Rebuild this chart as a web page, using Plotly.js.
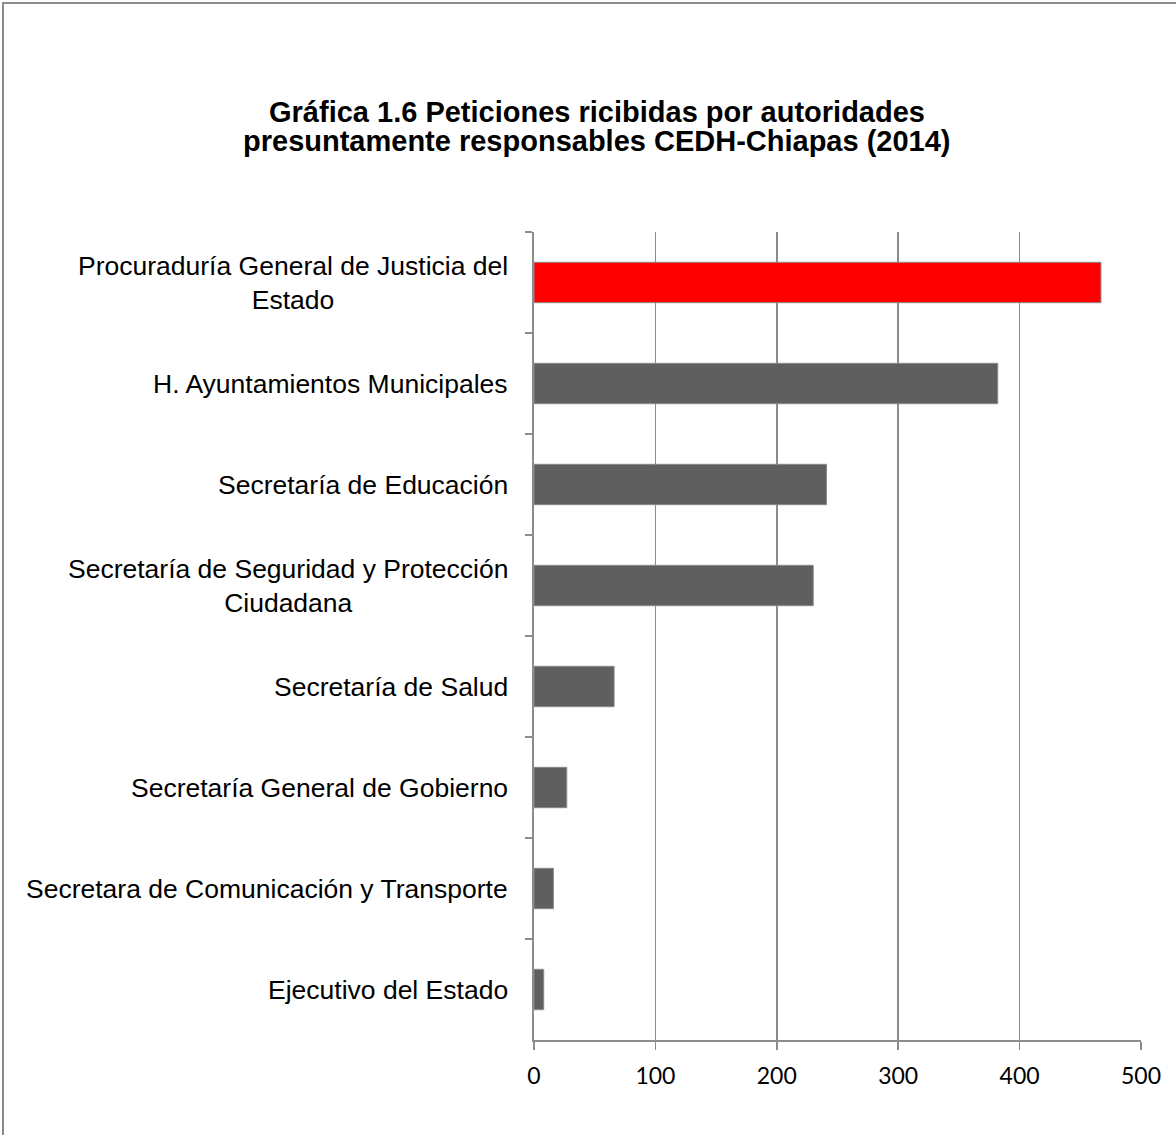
<!DOCTYPE html>
<html>
<head>
<meta charset="utf-8">
<script src="https://cdn.plot.ly/plotly-3.0.1.min.js"></script>
<style>
html,body{margin:0;padding:0;background:#fff;}
#frame{position:absolute;left:2px;top:2px;width:1180px;height:1140px;border-left:2px solid #8c8c8c;border-top:2px solid #8c8c8c;box-sizing:border-box;pointer-events:none;z-index:5;}
#chart{position:absolute;left:0;top:0;width:1176px;height:1135px;}
</style>
</head>
<body>
<div id="chart"></div>
<div id="frame"></div>
<script>
const categories = [
  "Procuraduría General de Justicia del<br>Estado",
  "H. Ayuntamientos Municipales",
  "Secretaría de Educación",
  "Secretaría de Seguridad y Protección<br>Ciudadana",
  "Secretaría de Salud",
  "Secretaría General de Gobierno",
  "Secretara de Comunicación y Transporte",
  "Ejecutivo del Estado"
];
const values = [467, 382, 241, 230, 66, 27, 16, 8];
const barColors = ["#FF0000", "#5F5F5F", "#5F5F5F", "#5F5F5F", "#5F5F5F", "#5F5F5F", "#5F5F5F", "#5F5F5F"];
const xTicks = [0, 100, 200, 300, 400, 500];
const titleLines = [
  "Gráfica 1.6 Peticiones ricibidas por autoridades",
  "presuntamente responsables CEDH-Chiapas (2014)"
];

const titleFont = {family: "Liberation Sans, Arial, sans-serif", size: 29, color: "#000"};

const trace = {
  type: "bar",
  orientation: "h",
  x: values,
  y: categories,
  marker: {color: barColors, line: {color: "#8a8a8a", width: 1}},
  hoverinfo: "x+y"
};

const annotations = categories.map(c => ({
  x: 0, xref: "paper", xshift: -24,
  y: c, yref: "y",
  text: c, showarrow: false,
  xanchor: "right", yanchor: "middle", align: "center",
  font: {family: "Liberation Sans, Arial, sans-serif", size: 26.5, color: "#000"}
}));
// second title line, placed closer than Plotly's default line spacing
annotations.push({
  x: (597 - 534) / (1176 - 534 - 35), xref: "paper",
  y: 1, yref: "paper", yshift: 232 - 141, yanchor: "middle", xanchor: "center",
  text: "<b>" + titleLines[1] + "</b>", showarrow: false,
  font: titleFont
});

const layout = {
  width: 1176, height: 1135,
  margin: {l: 534, r: 35, t: 232, b: 95},
  paper_bgcolor: "#fff", plot_bgcolor: "#fff",
  showlegend: false,
  bargap: 0.6,
  title: {
    text: "<b>" + titleLines[0] + "</b>",
    x: 597/1176, xanchor: "center",
    y: 1 - 112/1135, yanchor: "middle",
    font: titleFont
  },
  xaxis: {
    range: [0, 500], tickvals: xTicks, ticktext: xTicks.map(String),
    showgrid: true, gridcolor: "#8c8c8c", gridwidth: 1.5,
    showline: true, linecolor: "#8c8c8c", linewidth: 2,
    ticks: "outside", ticklen: 8, tickcolor: "#8c8c8c", tickwidth: 1.5,
    ticklabelstandoff: 6,
    zeroline: false,
    tickfont: {family: "Lato, Liberation Sans, sans-serif", size: 23, color: "#000"},
    fixedrange: true
  },
  yaxis: {
    type: "category", autorange: "reversed",
    showticklabels: false,
    tickson: "boundaries", ticks: "outside", ticklen: 7, tickcolor: "#8c8c8c", tickwidth: 1.5,
    showline: true, linecolor: "#8c8c8c", linewidth: 2,
    showgrid: false, zeroline: false, fixedrange: true
  },
  annotations: annotations
};

Plotly.newPlot("chart", [trace], layout, {displayModeBar: false, staticPlot: true});
</script>
</body>
</html>
